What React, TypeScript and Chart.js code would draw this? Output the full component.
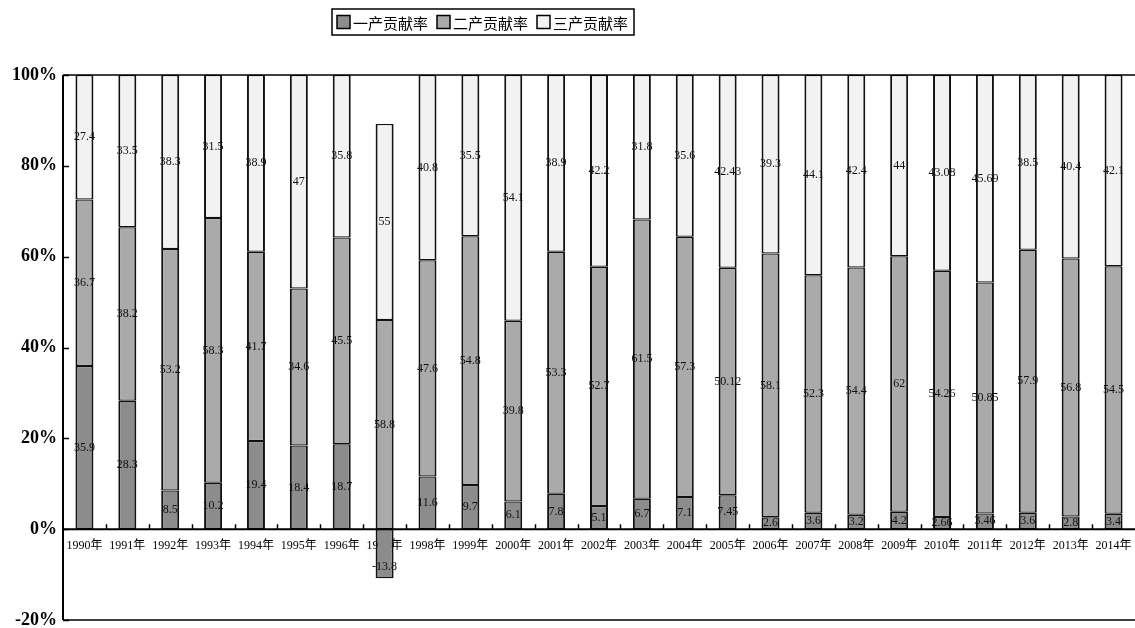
import { useEffect, useRef } from "react";
import { Chart, registerables } from "chart.js";

Chart.register(...registerables);

const categories = [
  "1990年", "1991年", "1992年", "1993年", "1994年", "1995年", "1996年", "1997年",
  "1998年", "1999年", "2000年", "2001年", "2002年", "2003年", "2004年", "2005年",
  "2006年", "2007年", "2008年", "2009年", "2010年", "2011年", "2012年", "2013年", "2014年",
];

const primaryValues = [
  35.9, 28.3, 8.5, 10.2, 19.4, 18.4, 18.7, -13.8, 11.6, 9.7, 6.1, 7.8, 5.1, 6.7, 7.1, 7.45,
  2.6, 3.6, 3.2, 4.2, 2.66, 3.46, 3.6, 2.8, 3.4,
];
const secondaryValues = [
  36.7, 38.2, 53.2, 58.3, 41.7, 34.6, 45.5, 58.8, 47.6, 54.8, 39.8, 53.3, 52.7, 61.5, 57.3, 50.12,
  58.1, 52.3, 54.4, 62, 54.26, 50.85, 57.9, 56.8, 54.5,
];
const tertiaryValues = [
  27.4, 33.5, 38.3, 31.5, 38.9, 47, 35.8, 55, 40.8, 35.5, 54.1, 38.9, 42.2, 31.8, 35.6, 42.43,
  39.3, 44.1, 42.4, 44, 43.08, 45.69, 38.5, 40.4, 42.1,
];

const seriesNames = ["一产贡献率", "二产贡献率", "三产贡献率"];
const seriesColors = ["#8c8c8c", "#aaaaaa", "#f2f2f2"];
const rawSeries = [primaryValues, secondaryValues, tertiaryValues];

const yMin = -20;
const yMax = 100;
const yStep = 20;

// 100% stacked: each value as share of the sum of absolute values
const toPercent = (series: number[]) =>
  series.map((v, i) => {
    const total =
      Math.abs(primaryValues[i]) + Math.abs(secondaryValues[i]) + Math.abs(tertiaryValues[i]);
    return (v / total) * 100;
  });

const labelsPlugin = {
  id: "segLabels",
  afterDatasetsDraw(chart: any) {
    const ctx = chart.ctx;
    ctx.save();
    ctx.font = "12px 'Liberation Serif', 'DejaVu Serif', serif";
    ctx.fillStyle = "#111";
    ctx.textAlign = "center";
    ctx.textBaseline = "middle";
    chart.data.datasets.forEach((_ds: any, di: number) => {
      const meta = chart.getDatasetMeta(di);
      meta.data.forEach((bar: any, i: number) => {
        const raw = rawSeries[di][i];
        const { x, y, base } = bar.getProps(["x", "y", "base"], true);
        let ly = (y + base) / 2;
        if (raw < 0) ly = Math.max(y, base) - 11;
        ctx.fillText(String(raw), x, ly);
      });
    });
    ctx.restore();
  },
};

const framePlugin = {
  id: "frame",
  afterDraw(chart: any) {
    const ctx = chart.ctx;
    const area = chart.chartArea;
    const yScale = chart.scales.y;
    const xScale = chart.scales.x;
    const zeroY = yScale.getPixelForValue(0);
    ctx.save();
    ctx.strokeStyle = "#000";

    // plot box (top, bottom, left)
    ctx.lineWidth = 1.5;
    ctx.beginPath();
    ctx.moveTo(area.right, area.top);
    ctx.lineTo(area.left, area.top);
    ctx.moveTo(area.left, area.bottom);
    ctx.lineTo(area.right, area.bottom);
    ctx.stroke();

    ctx.lineWidth = 2;
    ctx.beginPath();
    ctx.moveTo(area.left, area.top);
    ctx.lineTo(area.left, area.bottom);
    ctx.stroke();

    // zero axis line
    ctx.lineWidth = 2;
    ctx.beginPath();
    ctx.moveTo(area.left, zeroY);
    ctx.lineTo(area.right, zeroY);
    ctx.stroke();

    // y ticks pointing inward
    ctx.lineWidth = 1.5;
    ctx.beginPath();
    for (let v = yMin; v <= yMax; v += yStep) {
      const py = Math.round(yScale.getPixelForValue(v)) + 0.5;
      ctx.moveTo(area.left, py);
      ctx.lineTo(area.left + 6, py);
    }
    ctx.stroke();

    // x ticks at category boundaries, pointing up
    ctx.lineWidth = 1.5;
    ctx.beginPath();
    const n = categories.length;
    const w = (area.right - area.left) / n;
    for (let i = 1; i < n; i++) {
      const px = Math.round(xScale.getPixelForValue(i) - w / 2) + 0.5;
      ctx.moveTo(px, zeroY);
      ctx.lineTo(px, zeroY - 5);
    }
    ctx.stroke();

    // legend
    ctx.font = "15px 'Noto Sans CJK SC', sans-serif";
    ctx.textBaseline = "middle";
    ctx.textAlign = "left";
    const boxLeft = 332;
    const boxTop = 9;
    const boxH = 26;
    const cy = boxTop + boxH / 2;
    let x = boxLeft + 5;
    seriesNames.forEach((name, i) => {
      ctx.fillStyle = seriesColors[i];
      ctx.fillRect(x, cy - 6.5, 13, 13);
      ctx.lineWidth = 1.5;
      ctx.strokeStyle = "#000";
      ctx.strokeRect(x, cy - 6.5, 13, 13);
      ctx.fillStyle = "#000";
      ctx.fillText(name, x + 16, cy + 1);
      x += 16 + ctx.measureText(name).width + 9;
    });
    ctx.lineWidth = 1.5;
    ctx.strokeStyle = "#000";
    ctx.strokeRect(boxLeft, boxTop, x - boxLeft - 3, boxH);
    ctx.restore();
  },
};

export default function App() {
  const canvasRef = useRef<HTMLCanvasElement | null>(null);

  useEffect(() => {
    if (!canvasRef.current) return;
    const chart = new Chart(canvasRef.current, {
      type: "bar",
      data: {
        labels: categories,
        datasets: rawSeries.map((s, i) => ({
          label: seriesNames[i],
          data: toPercent(s),
          backgroundColor: seriesColors[i],
          borderColor: "#111",
          borderWidth: { left: 2, right: 2, top: 1.25, bottom: 1.25 },
          borderSkipped: false,
          barPercentage: 0.42,
          categoryPercentage: 1,
        })),
      },
      options: {
        animation: false,
        responsive: false,
        devicePixelRatio: 1,
        layout: { padding: { top: 75, bottom: 8, left: 0, right: 0 } },
        plugins: {
          legend: { display: false },
          tooltip: { enabled: false },
        },
        scales: {
          x: {
            stacked: true,
            position: { y: 0 } as any,
            grid: { display: false, drawTicks: false },
            border: { display: false },
            ticks: {
              autoSkip: false,
              maxRotation: 0,
              padding: 9,
              color: "#000",
              font: { family: "'Liberation Serif', 'Noto Sans CJK SC', serif", size: 12 },
            },
            afterFit: (scale: any) => {
              scale.height = 0;
              scale.paddingLeft = 0;
              scale.paddingRight = 0;
            },
          },
          y: {
            stacked: true,
            min: yMin,
            max: yMax,
            grid: { display: false, drawTicks: false },
            border: { display: false },
            ticks: {
              stepSize: yStep,
              padding: 6,
              color: "#000",
              font: { family: "'Liberation Serif', serif", size: 18, weight: "bold" },
              callback: (v: any) => `${v}%`,
            },
            afterFit: (scale: any) => {
              scale.width = 63;
              scale.paddingTop = 0;
              scale.paddingBottom = 0;
            },
          },
        },
      },
      plugins: [labelsPlugin, framePlugin],
    });
    return () => chart.destroy();
  }, []);

  return (
    <div style={{ position: "fixed", left: 0, top: 0, width: 1135, height: 628, background: "#fff" }}>
      <canvas ref={canvasRef} width={1135} height={628} style={{ display: "block" }} />
    </div>
  );
}
